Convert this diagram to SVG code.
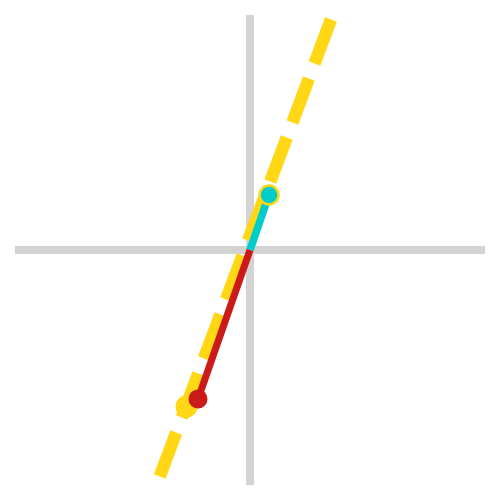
<svg xmlns="http://www.w3.org/2000/svg" width="500" height="500" viewBox="0 0 500 500">
<style>
.axis{stroke:#d3d3d3;stroke-width:8;fill:none}
.yl{stroke:#ffd714;stroke-width:12.5;stroke-dasharray:47 16;fill:none}
.cy{stroke:#00cccc;stroke-width:7.5}
.rd{stroke:#cc1a1a;stroke-width:7}
</style>
<rect width="500" height="500" fill="#fff"/>
<g id="axes">
<line class="axis" x1="15" y1="250" x2="485" y2="250"/>
<line class="axis" x1="250" y1="15" x2="250" y2="485"/>
</g>
<g id="connectors">
<line class="yl" x1="331" y1="19.5" x2="159.5" y2="477"/>
<line class="cy" x1="250" y1="250" x2="269" y2="195"/>
<line class="rd" x1="250" y1="250" x2="198" y2="399"/>
</g>
<g id="yellow-point"><circle cx="186.5" cy="406.5" r="11" fill="#ffd714"/></g>
<g id="red-point"><circle cx="198" cy="399" r="9.5" fill="#cc1a1a"/></g>
<g id="cyan-point"><circle cx="269" cy="195" r="9.5" fill="#00cccc" stroke="#ffd714" stroke-width="2.5"/></g>
</svg>
